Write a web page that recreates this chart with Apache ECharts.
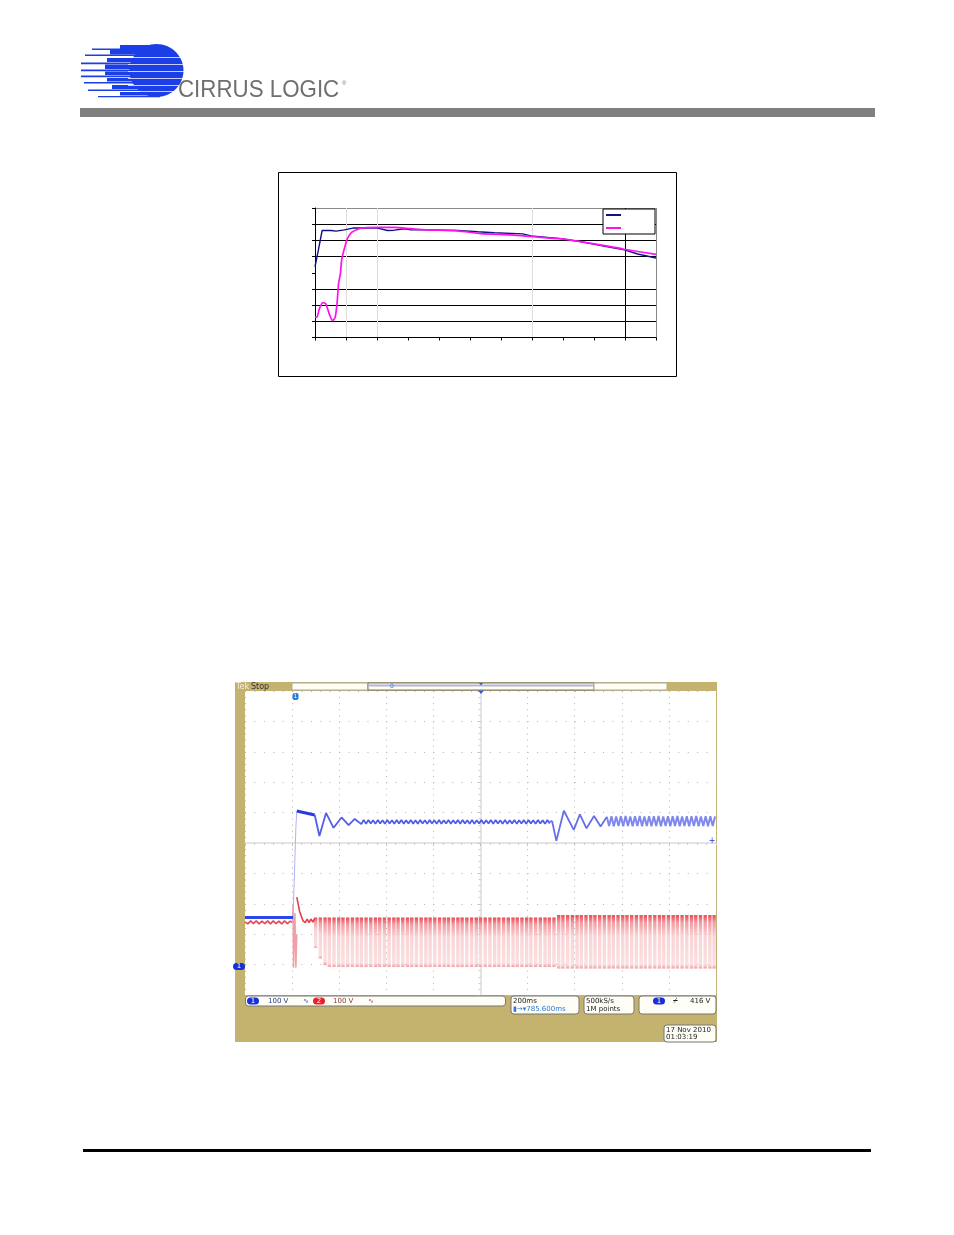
<!DOCTYPE html>
<html><head><meta charset="utf-8">
<style>html,body{margin:0;padding:0;background:#fff}#c{width:954px;height:1235px}</style>
<script src="https://cdn.jsdelivr.net/npm/echarts@6/dist/echarts.min.js"></script>
</head><body><div id="c"></div>
<script>
// Upper chart (axis labels are blank in the reference)
const curveA = [[0,4.37],[0.11,5.41],[0.23,6.61],[0.52,6.61],[0.68,6.57],[0.95,6.65],[1.22,6.76],[1.59,6.76],[2.02,6.76],[2.34,6.61],[2.56,6.63],[2.88,6.72],[3.10,6.65],[3.63,6.65],[4.60,6.61],[5.25,6.53],[5.78,6.47],[6.70,6.40],[6.97,6.28],[7.94,6.11],[8.47,5.95],[9.44,5.61],[9.98,5.41],[10.41,5.16],[11,4.91]];
const curveB = [[0,1.25],[0.06,1.25],[0.14,1.77],[0.25,2.16],[0.35,2.08],[0.46,1.46],[0.57,1.04],[0.65,1.25],[0.71,2.08],[0.76,3.33],[0.82,3.95],[0.86,4.78],[0.95,5.51],[1.05,6.13],[1.18,6.49],[1.38,6.69],[1.59,6.78],[2.02,6.80],[2.56,6.80],[3.10,6.72],[3.63,6.65],[4.60,6.59],[5.35,6.42],[6.32,6.34],[6.97,6.24],[7.94,6.09],[8.47,5.95],[9.44,5.65],[9.98,5.45],[11,5.13]];

// Scope traces, in divisions from screen centre
const ch1Idle = [[-5,-2.45],[-3.98,-2.45]];
const ch1Rise = [[-3.98,-2.45],[-3.95,-1.0],[-3.92,0.5],[-3.90,1.05]];
const ch1Sag = [[-3.90,1.05],[-3.52,0.92]];
const ch1Settle = [[-3.52,0.92],[-3.42,0.23],[-3.28,0.99],[-3.12,0.50],[-2.95,0.84],[-2.80,0.59],[-2.67,0.79],[-2.53,0.62]];
const ch1MidX = [-2.48,-2.43,-2.38,-2.33,-2.28,-2.23,-2.18,-2.13,-2.08,-2.03,-1.98,-1.93,-1.88,-1.83,-1.78,-1.73,-1.68,-1.63,-1.58,-1.53,-1.48,-1.43,-1.38,-1.33,-1.28,-1.23,-1.18,-1.13,-1.08,-1.03,-0.98,-0.93,-0.88,-0.83,-0.78,-0.73,-0.68,-0.63,-0.58,-0.53,-0.48,-0.43,-0.38,-0.33,-0.28,-0.23,-0.18,-0.13,-0.08,-0.03,0.02,0.07,0.12,0.17,0.22,0.27,0.32,0.37,0.42,0.47,0.52,0.57,0.62,0.67,0.72,0.77,0.82,0.87,0.92,0.97,1.02,1.07,1.12,1.17,1.22,1.27,1.32,1.37,1.42,1.47];
const ch1MidY = [0.76,0.63,0.76,0.64,0.75,0.63,0.76,0.64,0.75,0.63,0.76,0.64,0.75,0.63,0.76,0.64,0.76,0.63,0.75,0.64,0.76,0.63,0.75,0.63,0.76,0.64,0.75,0.63,0.76,0.64,0.75,0.63,0.76,0.63,0.75,0.64,0.76,0.63,0.75,0.64,0.76,0.63,0.76,0.64,0.75,0.63,0.76,0.63,0.75,0.64,0.76,0.63,0.75,0.64,0.76,0.63,0.76,0.64,0.75,0.63,0.76,0.63,0.75,0.64,0.76,0.63,0.75,0.64,0.76,0.63,0.76,0.64,0.75,0.63,0.76,0.64,0.75,0.63,0.76,0.64];
const ch1Step = [[1.47,0.70],[1.52,0.72],[1.61,0.07],[1.77,1.06],[1.98,0.43],[2.11,0.94],[2.25,0.48],[2.41,0.89],[2.55,0.54],[2.68,0.86]];
const ch1EndX = [2.73,2.78,2.83,2.88,2.93,2.98,3.03,3.08,3.13,3.18,3.23,3.28,3.33,3.38,3.43,3.48,3.53,3.58,3.63,3.68,3.73,3.78,3.83,3.88,3.93,3.98,4.03,4.08,4.13,4.18,4.23,4.28,4.33,4.38,4.43,4.48,4.53,4.58,4.63,4.68,4.73,4.78,4.83,4.88,4.93,4.98];
const ch1EndY = [0.56,0.88,0.55,0.87,0.56,0.88,0.55,0.89,0.56,0.87,0.55,0.88,0.56,0.89,0.55,0.87,0.56,0.88,0.55,0.88,0.56,0.89,0.55,0.87,0.56,0.88,0.55,0.88,0.56,0.89,0.55,0.87,0.56,0.88,0.55,0.88,0.56,0.89,0.55,0.87,0.56,0.88,0.55,0.88,0.56,0.87];
const ch2Idle = [[-5,-2.60],[-4.94,-2.66],[-4.88,-2.56],[-4.82,-2.65],[-4.76,-2.56],[-4.70,-2.66],[-4.64,-2.57],[-4.58,-2.65],[-4.52,-2.56],[-4.46,-2.66],[-4.40,-2.56],[-4.34,-2.65],[-4.28,-2.57],[-4.22,-2.66],[-4.16,-2.56],[-4.10,-2.65],[-4.04,-2.57],[-3.99,-2.62]];
const ch2Spike = [[-3.99,-2.62],[-3.98,-2.05],[-3.97,-4.10],[-3.94,-2.30],[-3.92,-4.10],[-3.90,-3.0]];
const ch2Decay = [[-3.90,-1.78],[-3.84,-2.25],[-3.77,-2.56],[-3.72,-2.62],[-3.68,-2.50],[-3.64,-2.62],[-3.60,-2.50],[-3.56,-2.60],[-3.52,-2.48]];
const pulseXA = [-3.50,-3.40,-3.30,-3.21,-3.11,-3.01,-2.92,-2.82,-2.72,-2.62,-2.53,-2.43,-2.33,-2.23,-2.14,-2.04,-1.94,-1.84,-1.75,-1.65,-1.55,-1.46,-1.36,-1.26,-1.16,-1.07,-0.97,-0.87,-0.77,-0.68,-0.58,-0.48,-0.39,-0.29,-0.19,-0.09,0.00,0.10,0.20,0.30,0.39,0.49,0.59,0.69,0.78,0.88,0.98,1.07,1.17,1.27,1.37,1.46,1.56];
const pulseBottomRampA = [-3.45,-3.80,-4.02];
const pulseTopA = -2.45, pulseBottomA = -4.08;
const pulseXB = [1.66,1.75,1.85,1.95,2.05,2.14,2.24,2.34,2.43,2.53,2.63,2.73,2.82,2.92,3.02,3.11,3.21,3.31,3.41,3.50,3.60,3.70,3.80,3.89,3.99,4.09,4.18,4.28,4.38,4.48,4.57,4.67,4.77,4.87,4.96];
const pulseTopB = -2.37, pulseBottomB = -4.13;

const zip = (xs, ys) => xs.map((x, i) => [x, ys[i]]);
const pulses = pulseXA.map((x, i) => [x, i < pulseBottomRampA.length ? pulseBottomRampA[i] : pulseBottomA, pulseTopA])
  .concat(pulseXB.map(x => [x, pulseBottomB, pulseTopB]));

const BLUE = '#1c3ee6', TAN = '#c4b36e', SANS = '"DejaVu Sans"', PBLUE = '#1a2fd8';
const el = [];
const rect = (x, y, w, h, fill, stroke, r, z) => el.push({type:'rect', z:z||1, shape:{x,y,width:w,height:h,r:r||0}, style:{fill:fill||'none', stroke:stroke||'none', lineWidth:1}});
const txt = (x, y, t, color, size, align, extra) => el.push({type:'text', z:8, x, y, style:Object.assign({text:t, fill:color||'#222', font:(size||7)+'px '+SANS, textAlign:align||'left', textVerticalAlign:'middle'}, extra||{})});
const pill = (x, y, t, fill) => { el.push({type:'rect', z:7, shape:{x:x-6,y:y-3.5,width:12,height:7,r:3.5}, style:{fill}}); txt(x, y, t, '#fff', 7, 'center'); };

// page furniture
rect(80,108,795,9,'#808080');
rect(83,1149,788,3,'#000');
// logo
[[92,48.5,1.6],[85,54.5,1.6],[81,62.5,1.8],[81,69.5,1.8],[81,75.5,1.8],[84,82,1.6],[88,89.5,1.6],[98,96,1.3]].forEach(r => rect(r[0], r[1], 62, r[2], BLUE));
[[120,45,40,4],[110,50,50,4.5],[107,58,50,4],[105,64.5,50,4.5],[105,71.5,50,3.5],[107,78,50,3.5],[112,85,50,4],[120,92,30,3.5]].forEach(r => rect(r[0], r[1], r[2], r[3], BLUE));
el.push({type:'ellipse', z:2, shape:{cx:156.5,cy:70.5,rx:27,ry:26.5}, style:{fill:BLUE}});
[57,64,71,78,85,91].forEach(y => rect(128,y,58,0.8,'#fff',null,0,3));
el.push({type:'text', z:4, x:178, y:90, scaleX:0.93, style:{text:'CIRRUS LOGIC', fill:'#6f6f6f', font:'24px "Liberation Sans"', textVerticalAlign:'middle', textAlign:'left'}});
el.push({type:'text', z:4, x:342, y:83, style:{text:'®', fill:'#777', font:'6px "Liberation Sans"', textVerticalAlign:'middle'}});

// upper chart frame
rect(278.5,172.5,398,204,null,'#000');

// scope chrome
rect(235,682,482,360,TAN,null,0,-2);
rect(292,683,76,7,'#fffef6','#aaa');
rect(368,683,226,7,'#fffef6','#777');
rect(369,684.5,224,2,'#b5b5dc');
rect(594,683,73,7,'#fffef6','#aaa');
txt(236,686.5,'Tek','#f2eee0',8);
txt(251,686.5,'Stop','#333',8);
txt(392,686.5,'0','#2a7ad0',6,'center');
el.push({type:'polygon', z:7, shape:{points:[[478,690.5],[484,690.5],[481,694]]}, style:{fill:'#2a62d0'}});
el.push({type:'polygon', z:7, shape:{points:[[479,683],[483,683],[481,685.5]]}, style:{fill:'#2a62d0'}});
el.push({type:'rect', z:7, shape:{x:292.5,y:693,width:6,height:7,r:2}, style:{fill:'#2a7ad0'}});
txt(295.5,696.5,'1','#fff',6,'center');
pill(239,966.5,'1',PBLUE);
txt(712,840.5,'+','#2030d8',8,'center');

// readout boxes
rect(245.5,996,260,10,'#fffef6','#777',3,5);
rect(511,996,68,18,'#fffef6','#777',3,5);
rect(584,996,50,18,'#fffef6','#777',3,5);
rect(639,996,77,18,'#fffef6','#777',3,5);
rect(664,1025,52,17,'#fffef6','#777',3,5);
pill(253,1001,'1',PBLUE);
txt(268,1001,'100 V','#2a3a8a');
txt(303,1001,'∿','#3040a0',7);
pill(319,1001,'2','#e8202a');
txt(333,1001,'100 V','#8a3a3a');
txt(368,1001,'∿','#a04040',7);
txt(513,1001,'200ms','#222');
txt(513,1009.5,'▮→▾785.600ms','#2a7ad0');
txt(586,1001,'500kS/s','#222');
txt(586,1009.5,'1M points','#222');
pill(659,1001,'1',PBLUE);
txt(673,1001,'⌿','#222',8);
txt(690,1001,'416 V','#222');
txt(666,1030,'17 Nov 2010','#222');
txt(666,1037.5,'01:03:19','#222');

const hide = {show:false};
const scopeLine = (name, data, color, width, opacity, z) => ({name, type:'line', xAxisIndex:1, yAxisIndex:1, data, showSymbol:false, lineStyle:{color, width, opacity:opacity||1}, z:z||6});
const option = {
  animation:false,
  backgroundColor:'#fff',
  graphic:{elements:el},
  legend:{
    data:['Curve A','Curve B'], orient:'vertical', left:603, top:209, icon:'rect',
    padding:[5,34,5,3], itemGap:11, itemWidth:15, itemHeight:2,
    backgroundColor:'#fff', borderColor:'#000', borderWidth:1, borderRadius:0,
    formatter:()=>'', selectedMode:false, textStyle:{fontSize:1}, z:6
  },
  grid:[
    {left:315, top:208, width:341, height:129.5, show:false},
    {left:245, top:691, width:471, height:304, show:true, backgroundColor:'#fff', borderWidth:0}
  ],
  xAxis:[
    {gridIndex:0, type:'value', min:0, max:11, interval:1,
      axisLabel:hide, axisLine:{lineStyle:{color:'#000',width:1}}, axisTick:{length:3,lineStyle:{color:'#000'}},
      splitLine:{show:true, lineStyle:{width:1, color:['rgba(0,0,0,0)','#ddd','#ddd','rgba(0,0,0,0)','rgba(0,0,0,0)','rgba(0,0,0,0)','rgba(0,0,0,0)','#ddd','rgba(0,0,0,0)','rgba(0,0,0,0)','#000','#888']}}},
    {gridIndex:1, type:'value', min:-5, max:5, interval:1,
      axisLabel:hide, axisLine:{onZero:true, lineStyle:{color:'#dcdcdc',width:1.5}},
      axisTick:{length:3, inside:false, lineStyle:{color:'#c4c4c4'}},
      minorTick:{show:true, splitNumber:5, length:2, lineStyle:{color:'#cfcfcf'}},
      splitLine:{show:true, lineStyle:{color:'#b4b4b4', width:1, type:[1,5.08]}}}
  ],
  yAxis:[
    {gridIndex:0, type:'value', min:0, max:8, interval:1,
      axisLabel:hide, axisLine:{show:true, lineStyle:{color:'#000',width:1}}, axisTick:{show:true,length:3,lineStyle:{color:'#000'}},
      splitLine:{show:true, lineStyle:{width:1, color:['rgba(0,0,0,0)','#000','#000','#000','rgba(0,0,0,0)','#000','#000','#000','#888']}}},
    {gridIndex:1, type:'value', min:-5, max:5, interval:1,
      axisLabel:hide, axisLine:{show:true, onZero:true, lineStyle:{color:'#dcdcdc',width:1.5}},
      axisTick:{show:true, length:3, lineStyle:{color:'#c4c4c4'}},
      minorTick:{show:true, splitNumber:5, length:2, lineStyle:{color:'#cfcfcf'}},
      splitLine:{show:true, lineStyle:{color:'#b4b4b4', width:1, type:[1,8.42]}}}
  ],
  series:[
    {name:'Curve A', type:'line', xAxisIndex:0, yAxisIndex:0, data:curveA, showSymbol:false, lineStyle:{color:'#10108a',width:1.4}, itemStyle:{color:'#10108a'}, z:4},
    {name:'Curve B', type:'line', xAxisIndex:0, yAxisIndex:0, data:curveB, showSymbol:false, smooth:0.2, lineStyle:{color:'#ff10f0',width:1.7}, itemStyle:{color:'#ff10f0'}, z:5},
    {name:'pulses', type:'custom', xAxisIndex:1, yAxisIndex:1, data:pulses, encode:{x:0,y:[1,2]}, z:3, clip:true,
      renderItem:(p,api)=>{
        const a = api.coord([api.value(0), api.value(2)]), b = api.coord([api.value(0), api.value(1)]);
        return {type:'rect', shape:{x:a[0]-1.7, y:a[1], width:3.4, height:b[1]-a[1]},
          style:{fill:new echarts.graphic.LinearGradient(0,0,0,1,[
            {offset:0,color:'#e84a54'},{offset:0.14,color:'#f29ca2'},{offset:0.4,color:'#f9d4d6'},
            {offset:0.92,color:'#fbdfe0'},{offset:1,color:'#f0a0a6'}])}};
      }},
    scopeLine('ch2idle', ch2Idle, '#e0505a', 1.7, 1, 4),
    scopeLine('ch2spike', ch2Spike, '#f0a0a6', 1.5, 1, 4),
    scopeLine('ch2decay', ch2Decay, '#e4404a', 1.6, 1, 4),
    scopeLine('ch1idle', ch1Idle, '#2848ee', 3),
    scopeLine('ch1rise', ch1Rise, '#b0b4f0', 1, 1, 5),
    scopeLine('ch1sag', ch1Sag, '#2a3ae0', 3),
    scopeLine('ch1settle', ch1Settle.concat(zip(ch1MidX,ch1MidY)), '#3442e0', 1.8, 0.85),
    scopeLine('ch1step', ch1Step, '#4a56e2', 1.8, 0.85),
    scopeLine('ch1end', ch1Step.slice(-1).concat(zip(ch1EndX,ch1EndY)), '#6a74e8', 2, 0.85)
  ]
};
echarts.init(document.getElementById('c'), null, {renderer:'canvas'}).setOption(option);
</script>
</body></html>
